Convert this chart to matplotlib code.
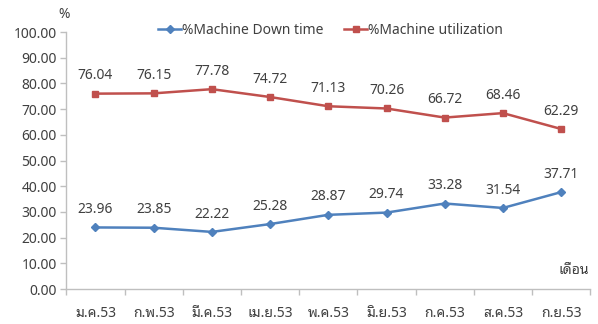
import matplotlib
matplotlib.use("Agg")
import matplotlib.pyplot as plt
import numpy as np

plt.rcParams['font.family'] = ['Noto Sans Thai Looped', 'DejaVu Sans']

months = ['ม.ค.53', 'ก.พ.53', 'มี.ค.53', 'เม.ย.53', 'พ.ค.53',
          'มิ.ย.53', 'ก.ค.53', 'ส.ค.53', 'ก.ย.53']
down_time = [23.96, 23.85, 22.22, 25.28, 28.87, 29.74, 33.28, 31.54, 37.71]
utilization = [76.04, 76.15, 77.78, 74.72, 71.13, 70.26, 66.72, 68.46, 62.29]

blue = '#4F81BD'
red = '#C0504D'
axis_col = '#BFBFBF'
text_col = '#404040'
fs = 10

fig = plt.figure(figsize=(5.98, 3.24), dpi=100)
ax = fig.add_axes([0.111, 0.108, 0.876, 0.793])

x = np.arange(len(months))
ax.plot(x, down_time, color=blue, marker='D', markersize=4.5, lw=1.8,
        label='%Machine Down time')
ax.plot(x, utilization, color=red, marker='s', markersize=5, lw=1.8,
        label='%Machine utilization')

# data labels
for series in (down_time, utilization):
    for xi, v in zip(x, series):
        ax.annotate(f'{v:.2f}', (xi, v), xytext=(0, 7.5), textcoords='offset points',
                    ha='center', va='bottom', fontsize=fs, color=text_col)

ax.set_xlim(-0.5, len(months) - 0.5)
ax.set_ylim(0, 100)
ax.set_yticks(np.arange(0, 101, 10))
ax.set_yticklabels([f'{v:.2f}' for v in np.arange(0, 101, 10)])
ax.set_xticks(x)
ax.set_xticklabels(months)
ax.set_xticks(np.arange(-0.5, len(months)), minor=True)

ax.tick_params(axis='x', which='major', length=0, pad=12, labelsize=fs, colors=text_col)
ax.tick_params(axis='x', which='minor', length=4, color=axis_col, width=1)
ax.tick_params(axis='y', length=4, color=axis_col, width=1, labelsize=fs, pad=3,
               labelcolor=text_col)

for s in ['top', 'right']:
    ax.spines[s].set_visible(False)
for s in ['left', 'bottom']:
    ax.spines[s].set_color(axis_col)
    ax.spines[s].set_linewidth(1)

fig.text(0.098, 0.955, '%', fontsize=fs, color=text_col, ha='left', va='center')
fig.text(0.985, 0.165, 'เดือน', fontsize=fs, color=text_col, ha='right', va='center')

fig.legend(loc='center', bbox_to_anchor=(0.553, 0.905), ncol=2, frameon=False,
           fontsize=fs, handlelength=1.6, handletextpad=0.1, columnspacing=1.5,
           labelcolor=text_col)

fig.savefig('out.png', dpi=100)
